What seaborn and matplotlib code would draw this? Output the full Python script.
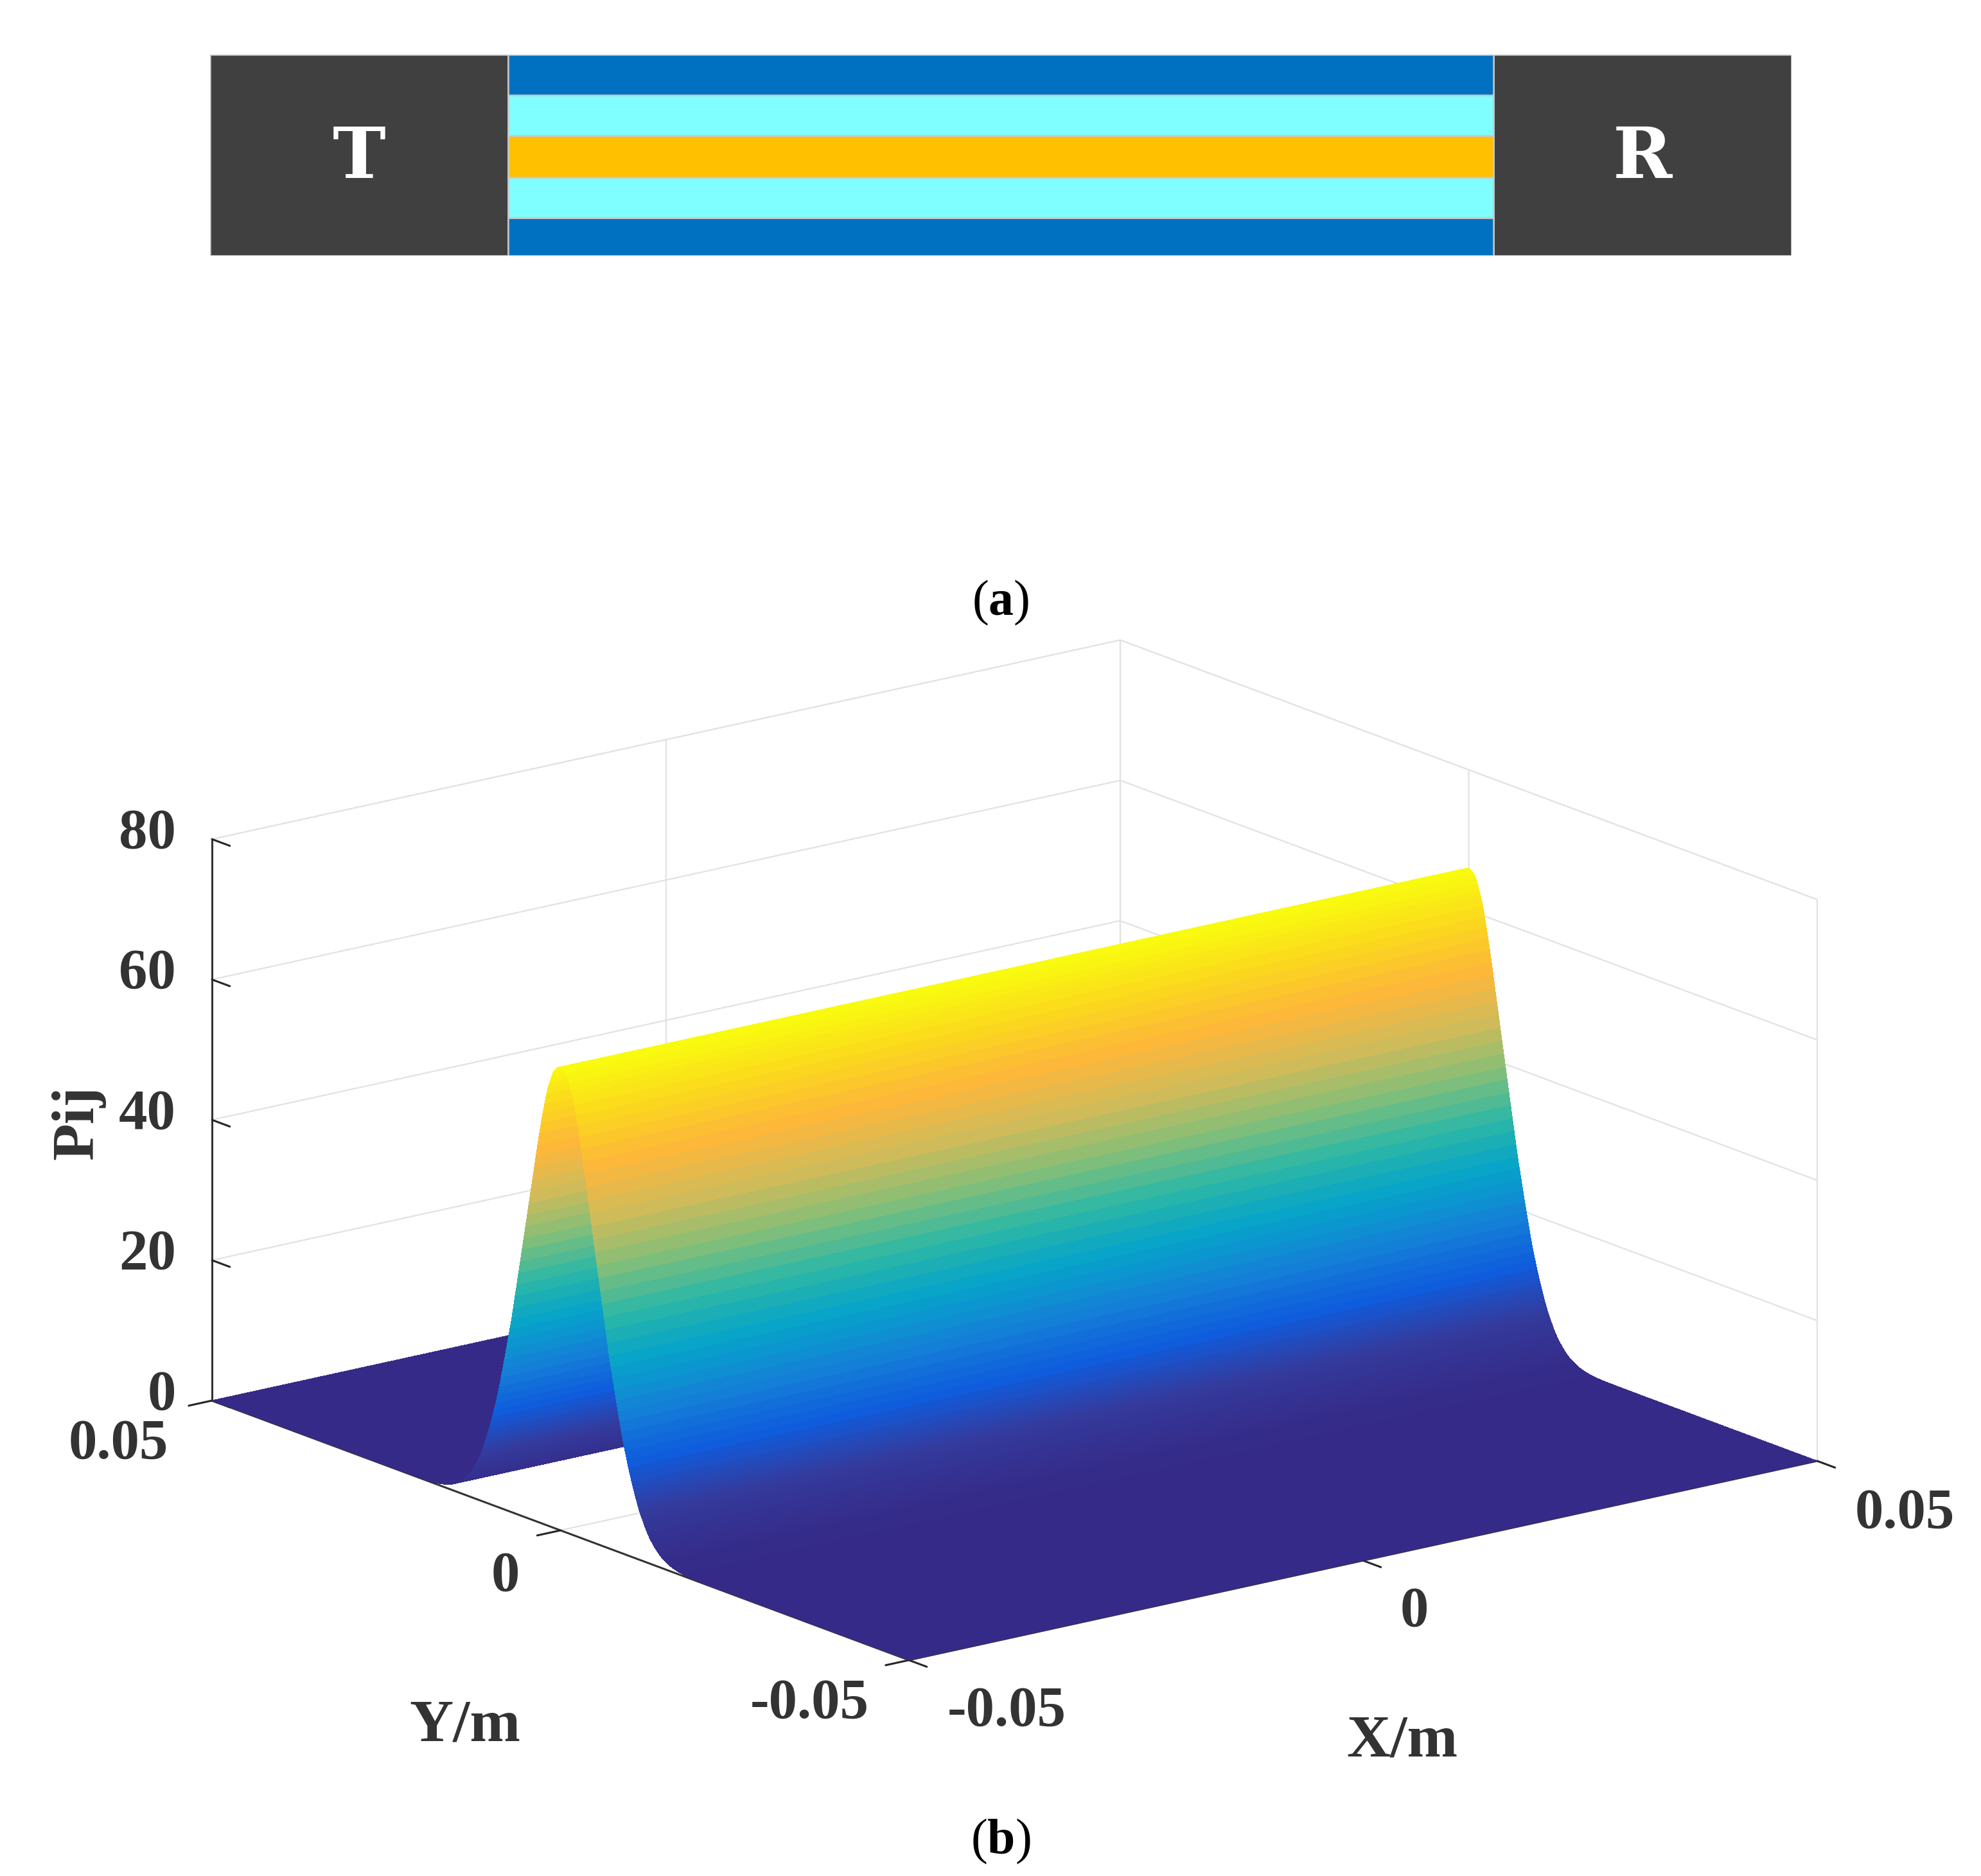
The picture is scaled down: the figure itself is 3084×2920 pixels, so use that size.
import numpy as np
import matplotlib
matplotlib.use("Agg")
import matplotlib.pyplot as plt
import seaborn as sns
from mpl_toolkits.mplot3d import proj3d

# Top panel: transmitter / channel layers / receiver
section_labels = ['T', 'R']
section_lengths = [236, 780, 236]
layer_heights = [30, 32, 33, 32, 32]
layer_colors = ['#0070c0', '#7fffff', '#ffc000', '#7fffff', '#0070c0']
coil_color = '#404040'

# Pij profile across Y (one half, the ridge is symmetric)
y_half_mm = [0, 0.25, 0.5, 0.75, 1, 1.25, 1.5, 1.75, 2, 2.25, 2.5, 2.75, 3, 3.25, 3.5, 3.75,
             4, 4.25, 4.5, 4.75, 5, 5.25, 5.5, 5.75, 6, 6.25, 6.5, 6.75, 7, 7.25, 7.5, 7.75,
             8, 8.25, 8.5, 8.75, 9, 9.25, 9.5, 9.75, 10, 10.25, 10.5, 10.75, 11, 11.25, 11.5, 11.75,
             12, 12.25, 12.5, 12.75, 13, 13.5, 14, 14.5, 15, 15.5, 16, 16.5, 17, 17.5, 18, 18.5,
             19, 20, 25, 50]
pij_half = [66.0, 65.9, 65.7, 65.4, 65.0, 64.2, 63.3, 62.5, 61.4, 60.0, 58.6, 57.1, 55.5, 53.8, 52.1, 50.3,
            48.5, 46.8, 45.0, 43.2, 41.5, 39.7, 38.0, 36.2, 34.5, 32.7, 31.0, 29.2, 27.5, 26.0, 24.5, 23.0,
            21.5, 20.1, 18.7, 17.3, 16.0, 14.8, 13.7, 12.6, 11.6, 10.6, 9.7, 8.8, 8.0, 7.2, 6.5, 5.9,
            5.3, 4.7, 4.2, 3.7, 3.3, 2.6, 2.0, 1.5, 1.15, 0.85, 0.62, 0.45, 0.32, 0.22, 0.15, 0.1,
            0.06, 0.03, 0.0, 0.0]
x_ends = [-0.05, 0.05]

x_ticks = [-0.05, 0, 0.05]
y_ticks = [-0.05, 0, 0.05]
z_ticks = [0, 20, 40, 60, 80]
parula = ['#352a87', '#343a9c', '#0f5cdd', '#1481d6', '#06a4ca', '#2eb7a4',
          '#87bf77', '#d1bb59', '#fdb73a', '#fbd51f', '#f9fb0e']

W, H = 3084, 2920
sns.set_theme(style='white')
plt.rcParams['font.family'] = ['Liberation Serif', 'DejaVu Serif']
plt.rcParams['mathtext.fontset'] = 'custom'
plt.rcParams['mathtext.rm'] = 'Liberation Serif'
plt.rcParams['mathtext.bf'] = 'Liberation Serif:bold'
plt.rcParams['grid.color'] = '#e2e2e2'
plt.rcParams['grid.linewidth'] = 1.6

fig = plt.figure(figsize=(W / 100, H / 100), dpi=100, facecolor='white')

# (a) layered structure
ax_top = fig.add_axes([327 / W, 1 - 398 / H, (2789 - 327) / W, (398 - 85) / H])
total_h = sum(layer_heights)
edge = dict(edgecolor='#c8c8c8', linewidth=1.8)
ax_top.barh(0, section_lengths[0], height=total_h, left=0, align='edge', color=coil_color, **edge)
ax_top.barh(0, section_lengths[2], height=total_h, left=sum(section_lengths[:2]), align='edge',
            color=coil_color, **edge)
bottom = 0
for h, c in zip(layer_heights, layer_colors):
    ax_top.barh(bottom, section_lengths[1], height=h, left=section_lengths[0], align='edge',
                color=c, **edge)
    bottom += h
ax_top.set_xlim(0, sum(section_lengths))
ax_top.set_ylim(0, total_h)
ax_top.axis('off')
letter = dict(color='white', fontsize=80, fontweight='bold', family='DejaVu Serif', ha='center', va='center')
ax_top.text(section_lengths[0] / 2, total_h * 0.485, section_labels[0], **letter)
ax_top.text(sum(section_lengths[:2]) + section_lengths[2] / 2, total_h * 0.485, section_labels[1], **letter)

# (b) surface
ax = fig.add_axes([0.05, 0.05, 0.9, 0.6], projection='3d', proj_type='ortho', facecolor='none')
ax.view_init(elev=16.6, azim=-127.5)
ax.set_box_aspect((1, 1, 0.5116), zoom=1.0)

y_half = [v / 1000 for v in y_half_mm]
y_all = np.array([-v for v in y_half[:0:-1]] + y_half)
p_all = np.array(pij_half[:0:-1] + pij_half)
X, Y = np.meshgrid(x_ends, y_all)
Z = np.tile(p_all[:, None], (1, 2))
cmap = sns.blend_palette(parula, n_colors=256, as_cmap=True)
ax.plot_surface(X, Y, Z, rstride=1, cstride=1, cmap=cmap, vmin=0, vmax=66, shade=False,
                linewidth=0, antialiased=False)

ax.set_xlim(-0.05, 0.05, view_margin=0)
ax.set_ylim(-0.05, 0.05, view_margin=0)
ax.set_zlim(0, 80, view_margin=0)
ax.set_xticks(x_ticks)
ax.set_yticks(y_ticks)
ax.set_zticks(z_ticks)
ax.set_xticklabels([''] * len(x_ticks))
ax.set_yticklabels([''] * len(y_ticks))
ax.set_zticklabels([''] * len(z_ticks))
ax.grid(True)
for axis in (ax.xaxis, ax.yaxis, ax.zaxis):
    axis.set_pane_color((1, 1, 1, 1))
    axis.pane.set_edgecolor('#dcdcdc')
    axis.line.set_color('#333333')
    axis.line.set_linewidth(2.2)
    axis._axinfo['tick']['color'] = '#333333'
    axis._axinfo['tick']['linewidth'] = {True: 2.2, False: 1.0}
    axis._axinfo['tick']['outward_factor'] = 0.0
    axis._axinfo['tick']['inward_factor'] = 0.32
ax.zaxis.set_ticks_position('upper')
# z ticks run along Y in the original
ax.zaxis._get_tickdir = lambda pos: 1


def to_px(x, y, z):
    px, py, _ = proj3d.proj_transform(x, y, z, ax.get_proj())
    dx, dy = ax.transData.transform((px, py))
    return dx, H - dy


# move and scale the axes so the box corners land where they are in the figure
fig.canvas.draw()
target_l, target_r = (330, 2180), (2829, 2272)
cur_l, cur_r = to_px(-0.05, 0.05, 0), to_px(0.05, -0.05, 0)
s = (target_r[0] - target_l[0]) / (cur_r[0] - cur_l[0])
pos = ax.get_position()
side = pos.width * W * s
ax.set_position([0, 0, side / W, side / H])
fig.canvas.draw()
cur_l = to_px(-0.05, 0.05, 0)
ax.set_position([(target_l[0] - cur_l[0]) / W, (cur_l[1] - target_l[1]) / H, side / W, side / H])
fig.canvas.draw()

tick_style = dict(fontsize=64, fontweight='bold', color='#333333', ha='center', va='center')


def px_text(px, py, s, **kw):
    fig.text(px / W, 1 - py / H, s, **kw)


for xt, lbl, off in zip(x_ticks, ['-0.05', '0', '0.05'], [(152, 80), (80, 80), (136, 82)]):
    p = to_px(xt, -0.05, 0)
    px_text(p[0] + off[0], p[1] + off[1], lbl, **tick_style)
for yt, lbl, off in zip(y_ticks, ['-0.05', '0', '0.05'], [(-155, 68), (-86, 72), (-146, 68)]):
    p = to_px(-0.05, yt, 0)
    px_text(p[0] + off[0], p[1] + off[1], lbl, **tick_style)
for zt in z_ticks:
    p = to_px(-0.05, 0.05, zt)
    px_text(p[0] - 56, p[1] - 8, str(zt), fontsize=64, fontweight='bold', color='#333333',
            ha='right', va='center')

label_style = dict(fontsize=68, fontweight='bold', color='#333333', ha='center', va='center')
px_text(724, 2687, 'Y/m', **label_style)
px_text(2183, 2711, 'X/m', **label_style)
px_text(122, 1747, 'Pij', rotation=90, **label_style)

caption = dict(fontsize=56, color='black', ha='center', va='center')
px_text(1558, 938, r'($\mathbf{a}$)', **caption)
px_text(1558, 2866, r'($\mathbf{b}$)', **caption)

fig.savefig('out.png', dpi=100, facecolor='white')
